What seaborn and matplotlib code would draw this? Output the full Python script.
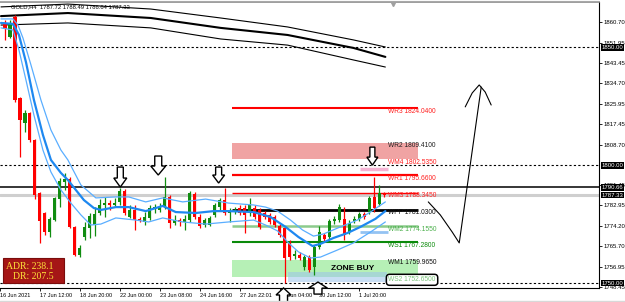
import numpy as np
import pandas as pd
import matplotlib
matplotlib.use('Agg')
import matplotlib.pyplot as plt
import matplotlib.transforms as mtransforms
from matplotlib.patches import Polygon, Rectangle
from matplotlib.lines import Line2D
import seaborn as sns

sns.set_theme(style='white')
plt.rcParams['font.family'] = ['Liberation Sans', 'DejaVu Sans']

# ---------------- data ----------------
bar_idx = list(range(77))
opens = [1860.3, 1854.3, 1862.8, 1828.5, 1817.9, 1822.1, 1810.7, 1788.2, 1779.7, 1771.6,
         1776.7, 1785.6, 1792.9, 1794.1, 1773.8, 1761.9, 1769.5, 1773.3, 1774.6, 1779.7,
         1783.1, 1783.9, 1783.1, 1784.4, 1789.0, 1778.0, 1781.0, 1777.2, 1775.9, 1777.6,
         1781.4, 1781.0, 1782.2, 1786.5, 1775.5, 1776.7, 1775.9, 1776.7, 1787.8, 1778.0,
         1774.6, 1774.6, 1778.9, 1782.2, 1785.2, 1779.7, 1780.1, 1781.8, 1781.8, 1779.7,
         1781.8, 1781.0, 1779.7, 1778.9, 1778.0, 1774.2, 1773.3, 1767.0, 1761.5, 1761.9,
         1756.8, 1761.0, 1756.8, 1765.3, 1770.4, 1769.5, 1776.3, 1776.7, 1777.2, 1771.6,
         1776.3, 1777.2, 1779.3, 1780.1, 1786.5, 1783.5, 1787.72]
highs = [1861.6, 1861.6, 1863.7, 1828.9, 1823.4, 1822.5, 1811.1, 1788.6, 1780.1, 1778.0,
         1786.5, 1794.5, 1796.7, 1795.0, 1774.2, 1766.1, 1775.9, 1779.7, 1782.2, 1785.6,
         1786.5, 1785.2, 1786.1, 1790.3, 1789.9, 1783.1, 1783.1, 1778.0, 1780.1, 1783.1,
         1783.5, 1783.9, 1795.0, 1787.3, 1778.9, 1777.6, 1778.9, 1789.0, 1788.6, 1779.3,
         1777.6, 1778.4, 1783.9, 1786.1, 1790.3, 1781.8, 1782.2, 1783.1, 1783.1, 1786.1,
         1783.1, 1781.8, 1780.5, 1779.7, 1778.9, 1775.0, 1774.2, 1768.3, 1764.0, 1763.2,
         1761.9, 1761.9, 1766.1, 1774.2, 1771.2, 1777.2, 1778.4, 1783.5, 1782.2, 1776.7,
         1778.4, 1780.1, 1780.1, 1786.9, 1795.0, 1791.6, 1788.49]
lows = [1853.1, 1853.9, 1826.8, 1803.5, 1814.1, 1809.8, 1785.6, 1767.0, 1770.4, 1769.5,
        1776.3, 1782.2, 1789.5, 1773.3, 1761.5, 1761.0, 1768.3, 1769.1, 1769.9, 1778.9,
        1778.0, 1781.0, 1782.2, 1783.1, 1778.9, 1777.6, 1772.5, 1775.9, 1774.6, 1776.7,
        1779.7, 1780.1, 1781.4, 1773.3, 1774.6, 1774.2, 1772.5, 1775.9, 1777.2, 1773.3,
        1773.8, 1774.2, 1778.0, 1781.0, 1778.9, 1775.9, 1779.3, 1778.9, 1771.2, 1778.4,
        1777.2, 1772.9, 1777.2, 1775.0, 1773.8, 1769.5, 1750.0, 1759.8, 1760.2, 1759.8,
        1755.5, 1754.7, 1753.4, 1764.4, 1767.8, 1768.7, 1775.0, 1775.9, 1768.3, 1770.8,
        1775.5, 1776.3, 1777.2, 1779.3, 1780.1, 1782.7, 1786.64]
closes = [1857.7, 1860.3, 1827.6, 1819.1, 1822.1, 1810.7, 1787.3, 1776.3, 1771.6, 1777.2,
          1786.1, 1793.3, 1794.1, 1773.8, 1761.9, 1764.9, 1773.8, 1778.4, 1779.3, 1783.1,
          1783.9, 1783.1, 1783.9, 1789.0, 1779.7, 1781.0, 1776.7, 1776.3, 1778.0, 1781.8,
          1782.2, 1782.2, 1786.5, 1775.5, 1776.7, 1775.9, 1777.2, 1788.2, 1778.0, 1774.2,
          1776.7, 1777.6, 1783.1, 1785.2, 1779.7, 1780.5, 1781.0, 1779.7, 1778.9, 1783.1,
          1778.0, 1773.8, 1778.0, 1775.9, 1774.6, 1770.4, 1760.6, 1761.0, 1762.3, 1760.6,
          1761.0, 1755.5, 1765.3, 1771.6, 1768.7, 1776.3, 1777.2, 1782.2, 1770.4, 1775.5,
          1777.2, 1779.3, 1778.0, 1786.1, 1781.8, 1788.2, 1787.33]

# envelope indicator (middle line + bands), read at points
mid_x = [-0.8, 1.6, 2.8, 4.2, 5.8, 7.6, 9.2, 11.2, 12.6, 15.8, 17.8, 19.2, 22.2, 24.8, 28.2,
         31.6, 34.2, 38.2, 41.8, 44.8, 49.8, 53.2, 56.2, 58.8, 61.6, 63.2, 65.8, 68.6, 71.2, 74.2, 76.2]
mid_y = [1860.3, 1859.9, 1855.2, 1843.7, 1827.6, 1812.8, 1802.2, 1796.7, 1793.7, 1785.2, 1781.8,
         1781.0, 1782.2, 1782.2, 1780.5, 1782.7, 1780.1, 1779.7, 1780.5, 1780.5, 1780.1, 1778.0,
         1773.8, 1769.5, 1765.7, 1766.6, 1769.1, 1771.2, 1773.8, 1777.2, 1780.5]
up_x = [-0.8, 1.6, 2.6, 3.6, 5.2, 7.2, 9.2, 11.2, 12.6, 15.2, 18.2, 22.2, 24.8, 28.2, 31.6, 35.6,
        40.2, 44.8, 49.8, 52.2, 54.6, 57.2, 59.6, 61.8, 63.8, 67.2, 70.6, 73.2, 76.2]
up_y = [1862.0, 1862.0, 1859.4, 1853.9, 1842.5, 1827.6, 1814.9, 1806.4, 1802.2, 1791.6, 1786.1,
        1786.5, 1786.5, 1784.4, 1786.1, 1784.4, 1785.6, 1783.9, 1783.1, 1782.2, 1780.5, 1776.7,
        1772.5, 1769.9, 1770.8, 1773.8, 1776.7, 1780.1, 1784.4]
lo_x = [-0.8, 1.6, 2.8, 4.2, 5.8, 7.6, 9.2, 11.2, 13.2, 15.2, 17.2, 19.2, 22.2, 26.2, 28.8, 31.6,
        35.6, 40.2, 44.8, 49.8, 52.2, 54.6, 56.8, 58.8, 61.2, 63.2, 66.6, 69.8, 73.2, 76.2]
lo_y = [1858.2, 1857.3, 1848.8, 1836.1, 1821.2, 1806.4, 1797.1, 1789.5, 1783.9, 1778.9, 1774.6,
        1775.0, 1777.6, 1776.7, 1775.9, 1777.6, 1775.9, 1775.0, 1775.9, 1776.7, 1774.6, 1772.1,
        1767.0, 1763.2, 1760.6, 1761.0, 1764.0, 1767.0, 1771.6, 1775.9]

# long moving averages (black)
ma_x = [-0.8, 12.6, 29.2, 43.2, 56.6, 69.8, 76.2]
ma_top = [1867.1, 1868.3, 1866.2, 1862.4, 1858.6, 1853.1, 1850.1]
ma_mid = [1863.2, 1864.5, 1862.4, 1858.2, 1855.2, 1849.7, 1845.9]
ma_low = [1859.4, 1860.3, 1858.2, 1853.5, 1850.9, 1844.6, 1841.6]

# weekly pivot levels
level_names = ['WR3', 'WR2', 'WM4', 'WR1', 'WM3', 'WPP', 'WM2', 'WS1', 'WM1', 'WS2']
level_values = [1824.04, 1809.41, 1802.535, 1795.66, 1788.345, 1781.03, 1774.155, 1767.28, 1759.965, 1752.65]

date_pos = [-1, 7, 15, 23, 31, 39, 47, 55, 63, 71]
date_labels = ['16 Jun 2021', '17 Jun 12:00', '18 Jun 20:00', '22 Jun 00:00', '23 Jun 08:00',
               '24 Jun 16:00', '27 Jun 22:01', '29 Jun 04:00', '30 Jun 12:00', '1 Jul 20:00']
price_ticks = [1860.70, 1851.95, 1843.45, 1834.70, 1825.95, 1817.45, 1808.70, 1791.45,
               1782.95, 1774.20, 1765.70, 1756.95, 1748.45]
boxed_prices = [1850.00, 1800.00, 1790.66, 1787.33, 1750.00]

# hand-drawn forecast path
path_x = [84.8, 87.2, 89.6, 91.0, 95.4]
path_y = [1784.4, 1778.9, 1771.6, 1767.0, 1833.1]
head_x = [92.2, 93.6, 95.0, 96.2, 97.4]
head_y = [1824.7, 1830.6, 1834.0, 1831.0, 1825.5]

# ---------------- figure ----------------
fig = plt.figure(figsize=(6.25, 3.02), dpi=100)
ax = fig.add_axes([0, 14 / 302, 599 / 625, 286 / 302])
XL = (-0.8, 119.0)
YL = (1747.89, 1869.18)
ax.set_xlim(*XL)
ax.set_ylim(*YL)
SX = 599 / (XL[1] - XL[0])       # px per bar
SY = 286 / (YL[1] - YL[0])       # px per price unit

# zones
lv = dict(zip(level_names, level_values))
x0, x1 = 45.4, 82.8
ax.add_patch(Rectangle((x0, lv['WM4']), x1 - x0, lv['WR2'] - lv['WM4'], fc='#F0A3A3', ec='none', zorder=1))
ax.add_patch(Rectangle((x0, lv['WS2']), x1 - x0, lv['WM1'] - lv['WS2'], fc='#B6F0B6', ec='none', zorder=1))
ax.add_patch(Rectangle((56.6, 1750.4), 76.6 - 56.6, 1754.7 - 1750.4, fc='#9CC4EC', ec='none', alpha=0.55, zorder=1.1))

# horizontal lines
for v in [1850.0, 1800.0, 1750.0]:
    ax.axhline(v, color='black', lw=0.8, ls=(0, (2, 2)), zorder=2)
ax.axhline(1787.33, color='#CFCFCF', lw=2.2, zorder=1.5)
ax.axhline(1790.66, color='black', lw=1.1, zorder=2)

level_style = {
    'WR3': ('#FF0000', 1.5), 'WR1': ('#FF0000', 1.6), 'WM3': ('#FF0000', 1.0),
    'WPP': ('#000000', 2.0), 'WM2': ('#8CCB8C', 1.8), 'WS1': ('#0A8A0A', 1.5),
}
for name, (c, w) in level_style.items():
    ax.hlines(lv[name], x0, x1, colors=c, lw=w, zorder=2)
ax.hlines(1798.4, 71.2, 76.8, colors='#F5B3D3', lw=2.5, zorder=2)
ax.hlines(1771.5, 71.2, 76.8, colors='#94C3F2', lw=2.0, zorder=2)

# long MAs
for yy, w in [(ma_top, 0.8), (ma_mid, 1.5), (ma_low, 0.8)]:
    sns.lineplot(x=ma_x, y=yy, ax=ax, color='black', lw=w, sort=False, estimator=None, zorder=2)

# candles
df = pd.DataFrame(dict(i=bar_idx, o=opens, h=highs, l=lows, c=closes))
col = np.where(df.c >= df.o, '#108C10', '#FF0000')
ax.vlines(df.i, df.l, df.h, colors=col, lw=0.9, zorder=3)
body = (df.c - df.o).abs().clip(lower=0.45)
ax.bar(df.i, body, bottom=np.minimum(df.o, df.c), width=0.62, color=col, lw=0, zorder=3)

# envelope
sns.lineplot(x=up_x, y=up_y, ax=ax, color='#5AAEFF', lw=0.9, sort=False, estimator=None, zorder=4)
sns.lineplot(x=lo_x, y=lo_y, ax=ax, color='#5AAEFF', lw=0.9, sort=False, estimator=None, zorder=4)
sns.lineplot(x=mid_x, y=mid_y, ax=ax, color='#1E88F0', lw=1.6, sort=False, estimator=None, zorder=4)

# level labels
label_col = {'WR3': '#FF2020', 'WR2': '#202020', 'WM4': '#FF2020', 'WR1': '#FF2020',
             'WM3': '#FF2020', 'WPP': '#101010', 'WM2': '#4CB04C', 'WS1': '#0A8A0A',
             'WM1': '#101010', 'WS2': '#7CC47C'}
for name, v in zip(level_names, level_values):
    kw = {}
    if name == 'WS2':
        kw['bbox'] = dict(boxstyle='round,pad=0.3,rounding_size=0.5', fc='white', ec='black', lw=1.1)
    ax.text(76.8, v + 0.2, f'{name} {v:.4f}', fontsize=4.8, color=label_col[name],
            ha='left', va='top', zorder=6, **kw)

ax.text(69.6, 1756.3, 'ZONE BUY', fontsize=6, fontweight='bold', color='black',
        ha='center', va='center', zorder=6)

# hand drawn path
sns.lineplot(x=path_x, y=path_y, ax=ax, color='black', lw=0.8, sort=False, estimator=None, zorder=5)
sns.lineplot(x=head_x, y=head_y, ax=ax, color='black', lw=0.8, sort=False, estimator=None, zorder=5)


def block_arrow(xc, ytip, down, head_w, shaft_w, total_h, head_h):
    hw, sw = head_w / 2 / SX, shaft_w / 2 / SX
    s = 1 if down else -1
    hh, th = s * head_h / SY, s * total_h / SY
    pts = [(xc, ytip), (xc - hw, ytip + hh), (xc - sw, ytip + hh), (xc - sw, ytip + th),
           (xc + sw, ytip + th), (xc + sw, ytip + hh), (xc + hw, ytip + hh)]
    ax.add_patch(Polygon(pts, closed=True, fc='white', ec='black', lw=1.0, zorder=8, clip_on=False))


block_arrow(23.1, 1790.7, True, 13, 6, 20, 9)
block_arrow(30.7, 1795.8, True, 15, 7, 19, 9)
block_arrow(42.8, 1792.4, True, 12, 6, 16, 8)
block_arrow(73.6, 1800.0, True, 11, 5, 18, 8)
block_arrow(55.8, 1747.9, False, 15, 8, 14, 7)
block_arrow(62.7, 1750.4, False, 19, 8, 12, 6)

# ADR box
ax.add_patch(Rectangle((-0.4, 1750.0), 12.2, 10.6, fc='#A51616', ec='#7A0C0C', lw=0.8, zorder=7))
ax.text(9.8, 1757.2, 'ADR: 238.1', fontsize=7, color='#FFE33A', ha='right', va='center',
        family=['Liberation Serif', 'DejaVu Serif'], zorder=8)
ax.text(9.8, 1752.6, 'DR: 207.5', fontsize=7, color='#FFE33A', ha='right', va='center',
        family=['Liberation Serif', 'DejaVu Serif'], zorder=8)

# header
ax.text(1.2, 1867.1, 'GOLD,H4  1787.72 1788.49 1786.64 1787.33', fontsize=4.2, color='black',
        ha='left', va='center', zorder=9)
ax.plot([77.8], [1868.4], marker='v', color='#A0A0A0', ms=3, clip_on=False, zorder=9)

# axes styling
ax.spines['left'].set_visible(False)
ax.spines['right'].set_color('black'); ax.spines['right'].set_linewidth(0.8)
ax.spines['bottom'].set_color('black'); ax.spines['bottom'].set_linewidth(0.8)
ax.spines['top'].set_color('#8C8C8C'); ax.spines['top'].set_linewidth(1.2)

ax.yaxis.tick_right()
ax.set_yticks(price_ticks)
ax.set_yticklabels([f'{v:.2f}' for v in price_ticks])
ax.tick_params(axis='y', which='both', right=True, left=False, length=2.5, width=0.6,
               pad=1, labelsize=4.3, colors='black')
ax.set_xticks(date_pos)
ax.set_xticklabels(date_labels)
ax.tick_params(axis='x', bottom=True, length=2, width=0.6, pad=1.5, labelsize=4.0, colors='black')
for t in ax.get_xticklabels():
    t.set_ha('left')
ax.set_xlabel(''); ax.set_ylabel('')

trans = mtransforms.blended_transform_factory(ax.transAxes, ax.transData)
for v in boxed_prices:
    ax.text(1.0045, v, f'{v:.2f}', transform=trans, fontsize=4.3, color='white', ha='left',
            va='center', clip_on=False, zorder=10,
            bbox=dict(boxstyle='square,pad=0.15', fc='black', ec='none'))

fig.add_artist(Line2D([0, 599 / 625], [1 - 0.8 / 302] * 2, color='#A8A8A8', lw=0.8))
fig.add_artist(Line2D([0, 1], [0.6 / 302] * 2, color='#D8D8D8', lw=1.0))

fig.savefig('out.png', dpi=100)
